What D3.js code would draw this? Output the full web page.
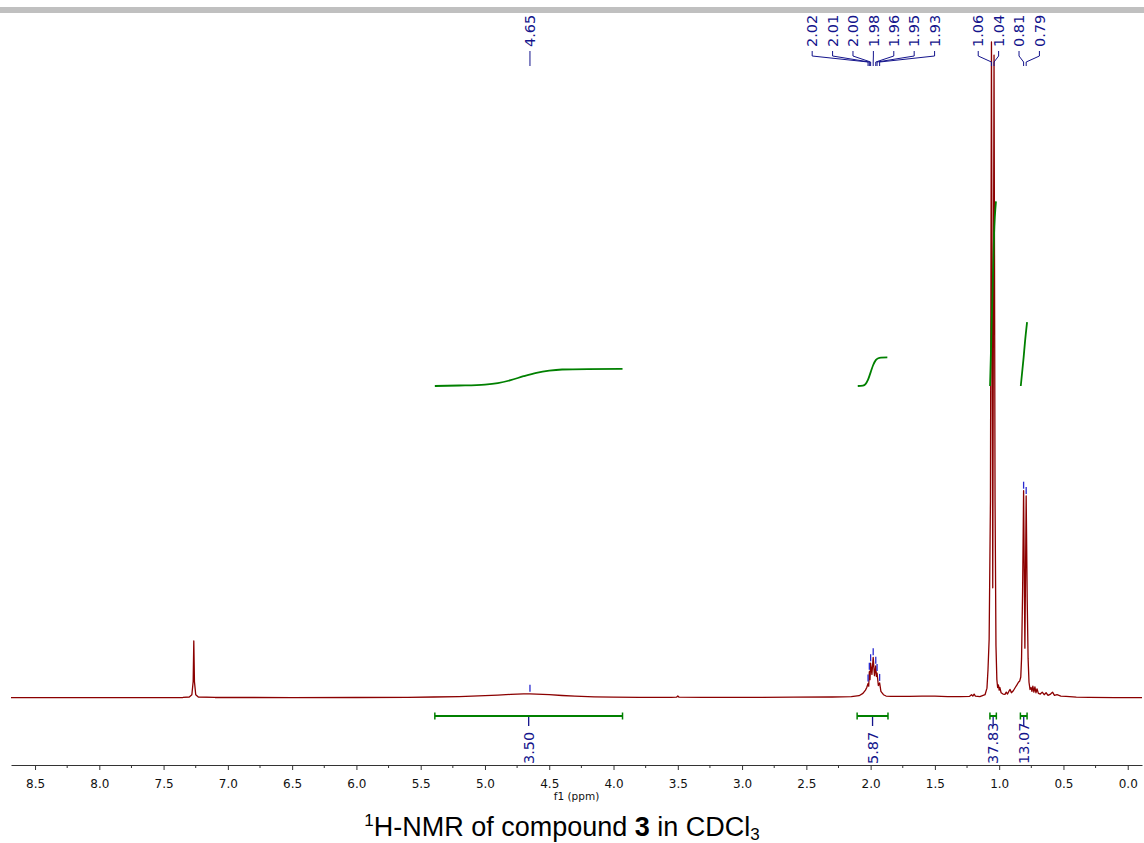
<!DOCTYPE html>
<html>
<head>
<meta charset="utf-8">
<script src="https://cdn.jsdelivr.net/npm/d3@7"></script>
<style>
  html, body { margin: 0; padding: 0; background: #fff; }
  svg { display: block; }
</style>
</head>
<body>
<svg id="chart" width="1144" height="843"></svg>
<script>
// ---------------- DATA ----------------
// spectrum trace: [ppm, intensity]
const spectrum = [
  [8.687,0.06],[8.0,0.06],[7.6,0.07],[7.35,0.08],[7.30,0.15],[7.28,0.5],[7.27,2.5],[7.265,8.7],[7.26,2.5],[7.25,0.5],[7.23,0.15],
  [7.1,0.08],[6.5,0.07],[6.0,0.08],[5.6,0.1],[5.4,0.15],[5.2,0.22],[5.0,0.35],[4.9,0.45],[4.8,0.55],[4.7,0.62],[4.65,0.64],
  [4.6,0.6],[4.5,0.5],[4.4,0.38],[4.3,0.28],[4.15,0.18],[4.0,0.12],[3.8,0.1],[3.55,0.1],[3.51,0.12],[3.50,0.3],[3.49,0.12],
  [3.3,0.1],[3.0,0.1],[2.6,0.12],[2.3,0.15],[2.15,0.2],[2.09,0.35],[2.06,0.7],[2.04,1.2],[2.03,1.6],[2.02,2.2],[2.015,1.8],
  [2.01,4.0],[2.005,2.8],[2.00,5.3],[1.99,3.6],[1.98,6.2],[1.97,3.4],[1.96,4.9],[1.955,3.3],[1.95,3.8],[1.94,1.9],[1.93,2.3],
  [1.92,1.0],[1.90,0.5],[1.88,0.3],[1.84,0.25],[1.7,0.25],[1.6,0.3],[1.5,0.28],[1.4,0.2],[1.3,0.22],[1.23,0.25],[1.215,0.5],
  [1.205,0.3],[1.195,0.6],[1.185,0.3],[1.15,0.2],[1.11,0.5],[1.095,1.5],[1.087,4.3],[1.078,9],[1.068,30],[1.06,100],[1.05,16.8],
  [1.04,98],[1.032,30],[1.025,8],[1.018,2.8],[1.012,1.6],[1.006,2.0],[1.0,1.2],[0.995,1.6],[0.985,0.8],[0.97,0.6],[0.955,0.55],
  [0.945,0.9],[0.935,0.6],[0.925,1.0],[0.915,1.3],[0.905,0.8],[0.89,1.1],[0.875,1.6],[0.862,2.0],[0.85,2.4],[0.84,2.6],
  [0.832,3.2],[0.826,6],[0.818,16],[0.81,31.6],[0.80,7.6],[0.79,30.8],[0.782,15],[0.775,6],[0.768,2.4],[0.76,1.3],[0.752,1.6],
  [0.745,1.0],[0.738,1.8],[0.73,0.9],[0.722,1.7],[0.714,0.8],[0.706,1.4],[0.695,0.7],[0.68,0.6],[0.665,0.9],[0.65,0.5],
  [0.635,0.8],[0.62,0.4],[0.6,0.6],[0.585,0.9],[0.57,0.4],[0.55,0.5],[0.52,0.3],[0.48,0.25],[0.4,0.12],[0.3,0.08],[0.1,0.06],
  [-0.111,0.06]
];

// picked peaks (labelled at top)
const peakPpm = [4.65, 2.02, 2.01, 2.00, 1.98, 1.96, 1.95, 1.93, 1.06, 1.04, 0.81, 0.79];

// integrals
const integralFrom = [5.39, 2.105, 1.072, 0.835];
const integralTo = [3.93, 1.865, 1.022, 0.783];
const integralLabels = ["3.50", "5.87", "37.83", "13.07"];
// integral curves: [ppm, cumulative value]
const integralCurveA = [[5.39,0],[5.2,0.1],[5.0,0.3],[4.9,0.6],[4.8,1.2],[4.7,2.0],[4.6,2.7],[4.5,3.15],[4.4,3.38],[4.2,3.47],[3.93,3.50]];
const integralCurveB = [[2.10,0],[2.06,0.1],[2.04,0.4],[2.02,1.3],[2.00,2.8],[1.98,4.3],[1.96,5.3],[1.94,5.7],[1.92,5.83],[1.87,5.87]];
const integralCurveC = [[1.071,0],[1.06,11],[1.05,21],[1.04,31],[1.025,37.83]];
const integralCurveD = [[0.832,0],[0.81,5.8],[0.80,8.8],[0.783,13.07]];

// axis ticks
const majorTicks = [8.5,8.0,7.5,7.0,6.5,6.0,5.5,5.0,4.5,4.0,3.5,3.0,2.5,2.0,1.5,1.0,0.5,0.0];
const minorTicks = [8.25,7.75,7.25,6.75,6.25,5.75,5.25,4.75,4.25,3.75,3.25,2.75,2.25,1.75,1.25,0.75,0.25,-0.25];

const axisTitle = "f1 (ppm)";

// ---------------- DRAW ----------------
const svg = d3.select("#chart");
const W = 1144, H = 843;
const specColor = "#8b0000", intColor = "#008000", lblColor = "#14148c";

// gray bar at top
svg.append("rect").attr("x", 0).attr("y", 7).attr("width", W).attr("height", 6).attr("fill", "#c0c0c0");

const x = d3.scaleLinear().domain([8.687, -0.111]).range([11, 1142]);
const y = d3.scaleLinear().domain([0, 100]).range([698, 42]);
const yi = d3.scaleLinear().domain([0, 40]).range([386, 190.8]);

// spectrum
const line = d3.line().x(d => x(d[0])).y(d => y(d[1]));
svg.append("path").datum(spectrum)
  .attr("d", line).attr("fill", "none").attr("stroke", specColor)
  .attr("stroke-width", 1.3).attr("stroke-linejoin", "round");

// integral curves
const iline = d3.line().x(d => x(d[0])).y(d => yi(d[1])).curve(d3.curveMonotoneX);
[integralCurveA, integralCurveB, integralCurveC, integralCurveD].forEach(c => {
  svg.append("path").datum(c.slice().sort((a,b)=>a[0]-b[0]))
    .attr("d", iline).attr("fill", "none").attr("stroke", intColor)
    .attr("stroke-width", 1.8);
});

// integral brackets + labels
const bracketY = 716;
integralFrom.forEach((f, i) => {
  const t = integralTo[i];
  const x0 = x(f), x1 = x(t), cx = (x0 + x1) / 2;
  const g = svg.append("g");
  g.append("line").attr("x1", x0).attr("x2", x1).attr("y1", bracketY).attr("y2", bracketY)
    .attr("stroke", intColor).attr("stroke-width", 2);
  [x0, x1].forEach(xx => g.append("line").attr("x1", xx).attr("x2", xx)
    .attr("y1", bracketY - 3.5).attr("y2", bracketY + 3.5).attr("stroke", intColor).attr("stroke-width", 1.5));
  g.append("line").attr("x1", cx).attr("x2", cx).attr("y1", bracketY + 1).attr("y2", bracketY + 10)
    .attr("stroke", lblColor).attr("stroke-width", 1.3);
  g.append("text").attr("transform", `translate(${cx},764) rotate(-90)`)
    .attr("dy", "0.36em").attr("text-anchor", "start")
    .attr("font-family", "DejaVu Sans, Verdana, sans-serif").attr("font-size", 14.5)
    .attr("fill", lblColor).text(integralLabels[i]);
});

// peak label layout (spread overlapping labels)
const gap = 20.4;
const peaks = peakPpm.map(p => ({ p, px: x(p) })).sort((a, b) => a.px - b.px);
let clusters = peaks.map(pk => ({ items: [pk], center: pk.px }));
let changed = true;
while (changed) {
  changed = false;
  for (let i = 0; i < clusters.length - 1; i++) {
    const a = clusters[i], b = clusters[i + 1];
    const aEnd = a.center + (a.items.length - 1) * gap / 2;
    const bStart = b.center - (b.items.length - 1) * gap / 2;
    if (bStart - aEnd < gap) {
      const items = a.items.concat(b.items);
      const center = d3.mean(items, d => d.px);
      clusters.splice(i, 2, { items, center });
      changed = true;
      break;
    }
  }
}
clusters.forEach(c => {
  c.items.forEach((pk, k) => { pk.lx = c.center + (k - (c.items.length - 1) / 2) * gap; });
});

const lookup = new Map(spectrum.map(d => [d[0].toFixed(3), d[1]]));
peaks.forEach(pk => {
  const g = svg.append("g");
  g.append("text").attr("transform", `translate(${pk.lx},47) rotate(-90)`)
    .attr("dy", "0.36em").attr("text-anchor", "start")
    .attr("font-family", "DejaVu Sans, Verdana, sans-serif").attr("font-size", 14.5)
    .attr("fill", lblColor).text(pk.p.toFixed(2));
  const pts = [[pk.lx, 51], [pk.lx, 56], [pk.px, 62], [pk.px, 66]];
  g.append("path").attr("d", d3.line()(pts)).attr("fill", "none")
    .attr("stroke", lblColor).attr("stroke-width", 1);
  const inten = lookup.get(pk.p.toFixed(3));
  if (inten !== undefined) {
    const top = y(inten);
    if (top > 80) {
      g.append("line").attr("x1", pk.px).attr("x2", pk.px).attr("y1", top - 9).attr("y2", top - 2)
        .attr("stroke", "#2a2ad0").attr("stroke-width", 1.3);
    }
  }
});

// axis
const axisY = 765;
const axis = d3.axisBottom(x).tickValues(majorTicks).tickFormat(d3.format(".1f"))
  .tickSize(5).tickSizeOuter(0).tickPadding(9);
const ga = svg.append("g").attr("transform", `translate(0,${axisY})`).call(axis);
ga.select(".domain").attr("stroke", "#333");
ga.selectAll(".tick line").attr("stroke", "#333");
ga.selectAll(".tick text").attr("font-family", "DejaVu Sans, Verdana, sans-serif")
  .attr("font-size", 12).attr("fill", "#111");
svg.append("g").selectAll("line").data(minorTicks.filter(t => x(t) >= 11 && x(t) <= 1142)).join("line")
  .attr("x1", d => x(d)).attr("x2", d => x(d)).attr("y1", axisY).attr("y2", axisY + 3)
  .attr("stroke", "#333");

svg.append("text").attr("x", (11 + 1142) / 2).attr("y", 800).attr("text-anchor", "middle")
  .attr("font-family", "DejaVu Sans, Verdana, sans-serif").attr("font-size", 10.5)
  .attr("fill", "#111").text(axisTitle);

// title
const title = svg.append("text").attr("x", 562).attr("y", 836).attr("text-anchor", "middle")
  .attr("font-family", "Liberation Sans, Arial, sans-serif").attr("font-size", 27).attr("fill", "#000");
title.append("tspan").attr("font-size", 17).attr("dy", -10).text("1");
title.append("tspan").attr("dy", 10).text("H-NMR of compound ");
title.append("tspan").attr("font-weight", "bold").text("3");
title.append("tspan").text(" in CDCl");
title.append("tspan").attr("font-size", 17).attr("dy", 4).text("3");
</script>
</body>
</html>
